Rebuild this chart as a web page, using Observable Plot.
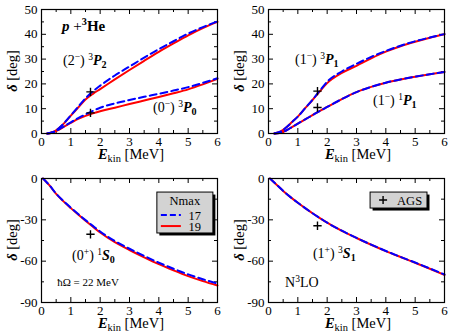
<!DOCTYPE html>
<html><head><meta charset="utf-8">
<script src="https://cdn.jsdelivr.net/npm/d3@7"></script>
<script src="https://cdn.jsdelivr.net/npm/@observablehq/plot@0.6"></script>
<style>
body{margin:0;background:#fff;}
#wrap{position:relative;width:451px;height:334px;overflow:hidden;}
#wrap svg{position:absolute;overflow:visible;}
#wrap svg, #wrap svg text, #wrap svg tspan{font-family:"Liberation Serif","DejaVu Serif",serif !important;}
</style></head><body><div id="wrap"></div>
<script>
// ---- data ----
const Etop = [0.2, 0.4, 0.6, 0.8, 1, 1.25, 1.5, 1.75, 2, 2.5, 3, 3.5, 4, 4.5, 5, 5.5, 6];
const P2_N19 = [0, 0.6, 2.2, 4.5, 7.2, 10.5, 13.7, 16.0, 17.9, 21.8, 25.6, 29.3, 32.9, 36.3, 39.6, 42.5, 45.0];
const P2_N17 = [0, 0.6, 2.2, 4.6, 7.3, 10.8, 14.2, 17.0, 19.3, 23.4, 27.0, 30.6, 34.0, 37.2, 40.3, 42.9, 45.2];
const P0_N19 = [0, 0.5, 1.6, 3.0, 4.3, 5.9, 7.1, 8.1, 9.0, 10.4, 11.9, 13.3, 14.7, 16.2, 17.8, 19.8, 22.0];
const P0_N17 = [0, 0.5, 1.7, 3.1, 4.5, 6.2, 7.7, 9.1, 10.4, 12.1, 13.5, 14.8, 16.0, 17.3, 18.7, 20.4, 22.3];
const P1t_N19 = [0, 0.7, 2.4, 4.6, 6.8, 10.2, 13.5, 17.0, 20.3, 24.4, 27.3, 30.3, 33.0, 35.2, 37.0, 38.6, 40.0];
const P1t_N17 = [0, 0.7, 2.4, 4.6, 6.8, 10.2, 13.6, 17.3, 20.9, 25.0, 28.1, 30.9, 33.3, 35.4, 37.2, 38.7, 40.1];
const P1s_N19 = [0, 0.3, 1.2, 2.6, 4.0, 5.7, 7.4, 9.1, 10.7, 13.9, 16.7, 18.8, 20.5, 21.8, 22.9, 23.9, 24.8];
const P1s_N17 = [0, 0.3, 1.2, 2.6, 4.0, 5.7, 7.4, 9.1, 10.7, 13.9, 16.7, 18.8, 20.5, 21.8, 22.9, 23.9, 24.8];
const Ebot = [0.05, 0.25, 0.5, 0.75, 1, 1.25, 1.5, 1.75, 2, 2.5, 3, 3.5, 4, 4.5, 5, 5.5, 6];
const S0_N19 = [0, -4.5, -11.2, -16.6, -21.5, -26.2, -30.7, -35.0, -39.2, -46.2, -51.9, -57.2, -62.2, -66.7, -70.9, -74.5, -77.7];
const S0_N17 = [0, -4.4, -11.0, -16.4, -21.2, -25.8, -30.2, -34.4, -38.5, -45.4, -51.0, -56.2, -61.1, -65.5, -69.6, -73.1, -76.2];
const S1_N19 = [0, -4.0, -9.0, -13.5, -17.6, -21.5, -25.2, -28.7, -32.1, -38.0, -43.2, -48.1, -52.7, -57.0, -61.2, -65.5, -70.0];
const S1_N17 = [0, -4.0, -9.0, -13.5, -17.6, -21.5, -25.2, -28.7, -32.1, -37.9, -43.1, -48.0, -52.6, -56.9, -61.0, -65.3, -69.7];
const AGS_E = 1.67;
const AGS_P2 = 16.8, AGS_P0 = 8.3, AGS_P1t = 17.1, AGS_P1s = 10.5, AGS_S0 = -40.5, AGS_S1 = -34.3;
const xMajor = [0, 1, 2, 3, 4, 5, 6];
const xMinor = [0.5, 1.5, 2.5, 3.5, 4.5, 5.5];
const yTopMajor = [0, 10, 20, 30, 40, 50];
const yTopMinor = [5, 15, 25, 35, 45];
const yBotMajor = [0, -30, -60, -90];
const yBotMinor = [-15, -45, -75];
const nmaxLabels = ["17", "19"];
const RED = "#ff0000", BLUE = "#0000ff";

const FONT = "'Liberation Serif', 'DejaVu Serif', serif";
const zip = (xs, ys) => xs.map((x, i) => ({x, y: ys[i]}));

function rich(sel, x, y, parts, {size = 14, anchor = "start", rotate = false} = {}) {
  const t = sel.append("text").attr("x", x).attr("y", y)
    .style("font-family", FONT).attr("font-size", size).attr("text-anchor", anchor).attr("fill", "black");
  if (rotate) t.attr("transform", `rotate(-90,${x},${y})`);
  for (const [s, st = ""] of parts) {
    const ts = t.append("tspan").text(s);
    if (st.includes("b")) ts.attr("font-weight", "bold");
    if (st.includes("i")) ts.attr("font-style", "italic");
    if (st.includes("^")) ts.attr("baseline-shift", (size * 0.38) + "px").attr("font-size", size * 0.68);
    if (st.includes("_")) ts.attr("baseline-shift", (-size * 0.22) + "px").attr("font-size", size * 0.72);
  }
  return t;
}

function panel({left, top, width, height, ml, mr, mt, mb, ydom, yMaj, yMin, curves, ags}) {
  const fw = width - ml - mr, fh = height - mt - mb;
  const marks = [
    Plot.tickX(xMajor, {x: d => d, insetTop: fh - 5, stroke: "black"}),
    Plot.tickX(xMajor, {x: d => d, insetBottom: fh - 5, stroke: "black"}),
    Plot.tickX(xMinor, {x: d => d, insetTop: fh - 3, stroke: "black"}),
    Plot.tickX(xMinor, {x: d => d, insetBottom: fh - 3, stroke: "black"}),
    Plot.tickY(yMaj, {y: d => d, insetRight: fw - 5, stroke: "black"}),
    Plot.tickY(yMaj, {y: d => d, insetLeft: fw - 5, stroke: "black"}),
    Plot.tickY(yMin, {y: d => d, insetRight: fw - 3, stroke: "black"}),
    Plot.tickY(yMin, {y: d => d, insetLeft: fw - 3, stroke: "black"})
  ];
  for (const c of curves) {
    marks.push(Plot.line(zip(c.E, c.n19), {x: "x", y: "y", stroke: RED, strokeWidth: 2, curve: "monotone-x"}));
  }
  for (const c of curves) {
    marks.push(Plot.line(zip(c.E, c.n17), {x: "x", y: "y", stroke: BLUE, strokeWidth: 2, strokeDasharray: "7,4", curve: "monotone-x"}));
  }
  marks.push(Plot.dot(ags.map(v => ({x: AGS_E, y: v})), {x: "x", y: "y", symbol: "plus", r: 2.8, stroke: "black", strokeWidth: 1.4, fill: "none"}));
  marks.push(Plot.frame({stroke: "black", strokeWidth: 1.2}));
  const svg = Plot.plot({
    width, height, marginLeft: ml, marginRight: mr, marginTop: mt, marginBottom: mb,
    style: {fontFamily: FONT, fontSize: "13px", color: "black", background: "transparent", overflow: "visible"},
    x: {domain: [0, 6], ticks: xMajor, tickSize: 0, tickPadding: 3, label: null, tickFormat: d => String(d)},
    y: {domain: ydom, ticks: yMaj, tickSize: 0, tickPadding: 4, label: null, tickFormat: d => String(d)},
    marks
  });
  svg.style.left = left + "px";
  svg.style.top = top + "px";
  document.getElementById("wrap").appendChild(svg);
  const xs = svg.scale("x"), ys = svg.scale("y");
  const g = d3.select(svg).append("g");
  const X = v => xs.apply(v), Y = v => ys.apply(v);
  // axis labels
  rich(g, (ml + width - mr) / 2 + 2, height - mb + 26,
    [["E", "bi"], ["kin", "_"], [" [MeV]"]], {size: 14.5, anchor: "middle"});
  rich(g, 17, (mt + height - mb) / 2,
    [["δ", "bi"], [" [deg]"]], {size: 14.5, anchor: "middle", rotate: true});
  return {svg, g, X, Y};
}

// Panel 1
const p1 = panel({left: 0, top: 0, width: 225, height: 167, ml: 41, mr: 8, mt: 9, mb: 34,
  ydom: [0, 50], yMaj: yTopMajor, yMin: yTopMinor,
  curves: [{E: Etop, n19: P2_N19, n17: P2_N17}, {E: Etop, n19: P0_N19, n17: P0_N17}],
  ags: [AGS_P2, AGS_P0]});
rich(p1.g, p1.X(0.72), p1.Y(41.0), [["p", "bi"], [" +"], ["3", "^b"], ["He", "b"]], {size: 15});
rich(p1.g, p1.X(0.75), p1.Y(27.6), [["(2"], ["−", "^"], [") "], ["3", "^"], ["P", "bi"], ["2", "_b"]]);
rich(p1.g, p1.X(3.82), p1.Y(8.4), [["(0"], ["−", "^"], [") "], ["3", "^"], ["P", "bi"], ["0", "_b"]]);

// Panel 2
const p2 = panel({left: 227, top: 0, width: 224, height: 167, ml: 41, mr: 7, mt: 9, mb: 34,
  ydom: [0, 50], yMaj: yTopMajor, yMin: yTopMinor,
  curves: [{E: Etop, n19: P1t_N19, n17: P1t_N17}, {E: Etop, n19: P1s_N19, n17: P1s_N17}],
  ags: [AGS_P1t, AGS_P1s]});
rich(p2.g, p2.X(0.92), p2.Y(28.0), [["(1"], ["−", "^"], [") "], ["3", "^"], ["P", "bi"], ["1", "_b"]]);
rich(p2.g, p2.X(3.58), p2.Y(11.2), [["(1"], ["−", "^"], [") "], ["1", "^"], ["P", "bi"], ["1", "_b"]]);

// Panel 3
const p3 = panel({left: 0, top: 167, width: 225, height: 167, ml: 41, mr: 8, mt: 11, mb: 32,
  ydom: [-90, 0], yMaj: yBotMajor, yMin: yBotMinor,
  curves: [{E: Ebot, n19: S0_N19, n17: S0_N17}],
  ags: [AGS_S0]});
rich(p3.g, p3.X(1.06), p3.Y(-59.5), [["(0"], ["+", "^"], [") "], ["1", "^"], ["S", "bi"], ["0", "_b"]]);
rich(p3.g, p3.X(0.55), p3.Y(-78.6), [["ħΩ = 22 MeV"]], {size: 11});
{
  const g = p3.g, x0 = p3.X(3.95), x1 = p3.X(5.86), y0 = p3.Y(-10.2), y1 = p3.Y(-39.9);
  g.append("rect").attr("x", x0 + 2.5).attr("y", y0 + 2.5).attr("width", x1 - x0).attr("height", y1 - y0).attr("fill", "black");
  g.append("rect").attr("x", x0).attr("y", y0).attr("width", x1 - x0).attr("height", y1 - y0).attr("fill", "#d3d3d3").attr("stroke", "black").attr("stroke-width", 1);
  rich(g, (x0 + x1) / 2, y0 + 13, [["Nmax"]], {size: 12.5, anchor: "middle"});
  const cols = [BLUE, RED], dash = ["6,3", null];
  nmaxLabels.forEach((lab, i) => {
    const yy = y0 + 23 + i * 11;
    const l = g.append("line").attr("x1", x0 + 4).attr("x2", x0 + 24).attr("y1", yy).attr("y2", yy)
      .attr("stroke", cols[i]).attr("stroke-width", 2);
    if (dash[i]) l.attr("stroke-dasharray", dash[i]);
    rich(g, x1 - 12, yy + 4.5, [[lab]], {size: 12.5, anchor: "end"});
  });
}

// Panel 4
const p4 = panel({left: 227, top: 167, width: 224, height: 167, ml: 41, mr: 7, mt: 11, mb: 32,
  ydom: [-90, 0], yMaj: yBotMajor, yMin: yBotMinor,
  curves: [{E: Ebot, n19: S1_N19, n17: S1_N17}],
  ags: [AGS_S1]});
rich(p4.g, p4.X(1.53), p4.Y(-58.3), [["(1"], ["+", "^"], [") "], ["3", "^"], ["S", "bi"], ["1", "_b"]]);
rich(p4.g, p4.X(0.58), p4.Y(-79.2), [["N"], ["3", "^"], ["LO"]]);
{
  const g = p4.g, x0 = p4.X(3.48), x1 = p4.X(5.42), y0 = p4.Y(-10.2), y1 = p4.Y(-21.8);
  g.append("rect").attr("x", x0 + 2.5).attr("y", y0 + 2.5).attr("width", x1 - x0).attr("height", y1 - y0).attr("fill", "black");
  g.append("rect").attr("x", x0).attr("y", y0).attr("width", x1 - x0).attr("height", y1 - y0).attr("fill", "#d3d3d3").attr("stroke", "black").attr("stroke-width", 1);
  const cy = (y0 + y1) / 2;
  g.append("path").attr("d", `M${x0 + 9},${cy}h8M${x0 + 13},${cy - 4}v8`).attr("stroke", "black").attr("stroke-width", 1.4);
  rich(g, x0 + 27, cy + 4.5, [["AGS"]], {size: 12.5});
}
</script></body></html>
